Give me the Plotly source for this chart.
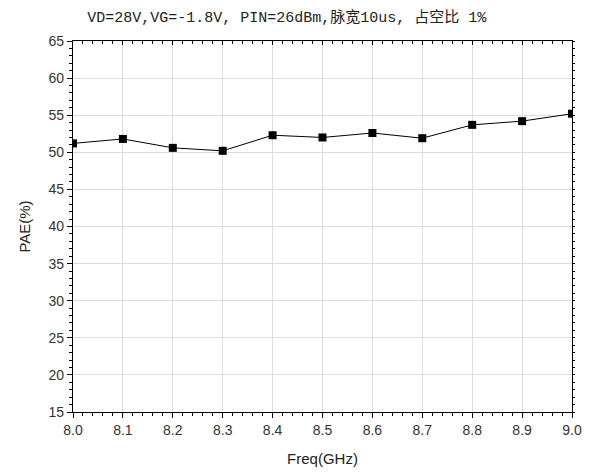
import plotly.graph_objects as go

freq = [8.0, 8.1, 8.2, 8.3, 8.4, 8.5, 8.6, 8.7, 8.8, 8.9, 9.0]
pae = [51.2, 51.8, 50.6, 50.2, 52.3, 52.0, 52.6, 51.9, 53.7, 54.2, 55.2]
title_text = "VD=28V,VG=-1.8V, PIN=26dBm,脉宽10us, 占空比 1%"

fig = go.Figure()
fig.add_trace(go.Scatter(
    x=freq, y=pae, mode="lines+markers",
    line=dict(color="black", width=1),
    marker=dict(symbol="square", size=8, color="black"),
    showlegend=False,
))
# invisible trace so the mirrored top/right axes are drawn
fig.add_trace(go.Scatter(x=[freq[0]], y=[pae[0]], xaxis="x2", yaxis="y2",
                         mode="markers", marker=dict(opacity=0), showlegend=False,
                         hoverinfo="skip"))

tickfont = dict(family="Liberation Sans, Arial", size=14, color="#333")
titlefont = dict(family="Liberation Sans, Arial", size=15, color="#222")

axis_common = dict(
    showline=True, linecolor="black", linewidth=1.2, mirror=True,
    ticks="outside", ticklen=5, tickcolor="black", tickwidth=1,
    showgrid=True, gridcolor="#dcdcdc", gridwidth=1, zeroline=False,
    tickfont=tickfont, automargin=False,
    minor=dict(ticks="outside", ticklen=3, tickcolor="black", showgrid=False),
)

fig.update_layout(
    width=582, height=465,
    margin=dict(l=65, r=18, t=33, b=61),
    plot_bgcolor="white", paper_bgcolor="white",
    title=dict(text=title_text, x=0.479, xanchor="center", y=0.981, yanchor="middle",
               font=dict(family="Liberation Mono, Noto Sans CJK SC", size=15, color="#222")),
    xaxis=dict(range=[8.0, 9.0], dtick=0.1, tickformat=".1f",
               title=dict(text="Freq(GHz)", font=titlefont, standoff=16), **axis_common),
    yaxis=dict(range=[15, 65], dtick=5,
               title=dict(text="PAE(%)", font=titlefont, standoff=14), **axis_common),
    xaxis2=dict(range=[8.0, 9.0], dtick=0.1, overlaying="x", side="top", anchor="y",
                showticklabels=False, showgrid=False, zeroline=False, showline=False,
                ticks="inside", ticklen=4, tickcolor="black", automargin=False,
                minor=dict(ticks="inside", ticklen=3, tickcolor="black", showgrid=False)),
    yaxis2=dict(range=[15, 65], dtick=5, overlaying="y", side="right", anchor="x",
                showticklabels=False, showgrid=False, zeroline=False, showline=False,
                ticks="outside", ticklen=2, tickcolor="black", automargin=False,
                minor=dict(ticks="outside", ticklen=2, tickcolor="black", showgrid=False)),
)

fig.write_html("out.html")
